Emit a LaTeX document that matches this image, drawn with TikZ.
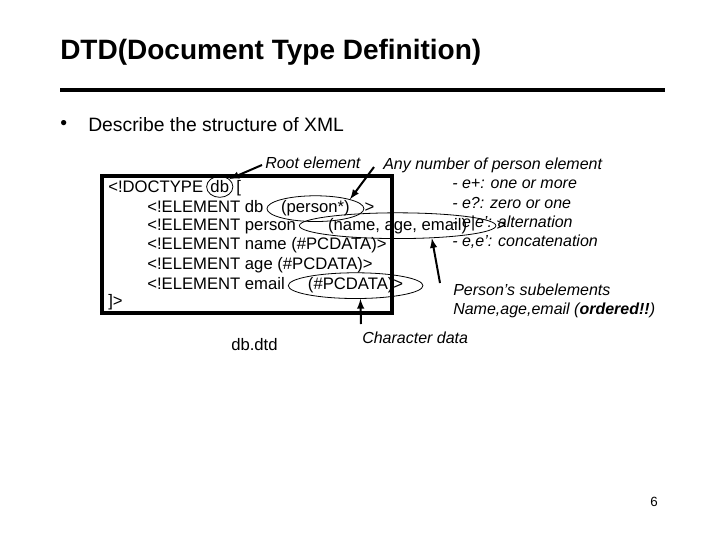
\documentclass[tikz,border=0pt]{standalone}
\usepackage{fontspec}
\setmainfont{Liberation Sans}
\usetikzlibrary{shapes.geometric}
\begin{document}
\begin{tikzpicture}[x=0.75pt,y=-0.75pt,
  txt/.style={anchor=west,inner sep=0pt,font=\fontsize{12.5}{14}\selectfont},
  itx/.style={anchor=west,inner sep=0pt,font=\fontsize{12}{14}\selectfont\itshape},
  pc/.style={anchor=base west,inner sep=0pt,font=\fontsize{12.5}{14}\selectfont},
  ov/.style={pc,draw,ellipse,line width=0.6pt,inner xsep=0pt,inner ysep=1pt},
  arr/.style={-latex,line width=1.5pt}]
\useasboundingbox (0,0) rectangle (720,540);
\node[anchor=west,inner sep=0pt,font=\fontsize{21}{24}\selectfont\bfseries] (title) at (60,52) {DTD(Document Type Definition)};
\draw[line width=3pt] (60,90) -- (665,90);
\node[txt,font=\fontsize{14.5}{16}\selectfont] (bul) at (60,125) {•};
\node[txt,font=\fontsize{14.5}{16}\selectfont] (desc) at (88,125) {Describe the structure of XML};
\draw[line width=2.5pt] (102,176) rectangle (392,313);
\node[txt] (l1) at (108,187) {<!DOCTYPE\,};
\node[ov] (db) at (l1.base east) {db};
\node[pc] (l1b) at (db.base east) {\,[};
\node[txt] (l2) at (147,207) {<!ELEMENT db\,};
\node[ov] (pers) at (l2.base east) {(person*)};
\node[pc] (l2b) at (pers.base east) {>};
\node[txt] (l3) at (147,226) {<!ELEMENT person\,};
\node[ov] (nae) at (l3.base east) {(name, age, email)};
\node[pc] (l3b) at (nae.base east) {>};
\node[txt] (l4) at (147,245) {<!ELEMENT name (\#PCDATA)>};
\node[txt] (l5) at (147,265) {<!ELEMENT age (\#PCDATA)>};
\node[txt] (l6) at (147,284) {<!ELEMENT email\,};
\node[ov] (pcd) at (l6.base east) {(\#PCDATA)>};
\node[txt] (l7) at (108,302) {]>};
\node[itx] (root) at (265,163) {Root element};
\node[itx] (any) at (383,165) {Any number of person element};
\node[itx] (e1) at (452,184) {- e+: one or more};
\node[itx] (e2) at (452,203) {- e?: zero or one};
\node[itx] (e3) at (452,223) {- e|e': alternation};
\node[itx] (e4) at (452,242) {- e,e': concatenation};
\node[itx] (ps) at (453,290) {Person's subelements};
\node[itx] (pn) at (453,310) {Name,age,email (\textbf{ordered!!})};
\node[itx] (cd) at (362,338) {Character data};
\node[txt] (dtd) at (231,345) {db.dtd};
\node[txt,font=\fontsize{10}{12}\selectfont] (pg) at (650,502) {6};
\coordinate (a1) at (262,165);
\coordinate (a2) at (374,167);
\coordinate (a3) at (440,283);
\coordinate (a4) at (361,324);
\draw[arr] (a1) -- (db.north east);
\draw[arr] (a2) -- (pers.north east);
\draw[arr] (a3) -- (nae.-20);
\draw[arr] (a4) -- (pcd.-70);
\end{tikzpicture}
\end{document}
